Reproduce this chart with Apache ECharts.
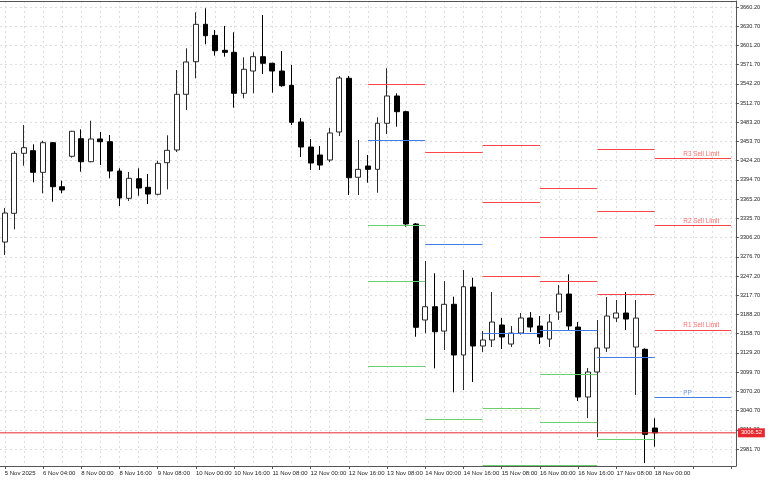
<!DOCTYPE html>
<html><head><meta charset="utf-8">
<script src="https://cdn.jsdelivr.net/npm/echarts@6/dist/echarts.min.js"></script>
<style>html,body{margin:0;padding:0;background:#fff}#c{width:768px;height:480px}</style>
</head><body><div id="c"></div>
<script>
const categories = [
 '5 Nov 12:00','5 Nov 16:00','5 Nov 20:00','6 Nov 00:00','6 Nov 04:00','6 Nov 08:00','6 Nov 12:00','6 Nov 16:00',
 '8 Nov 00:00','8 Nov 04:00','8 Nov 08:00','8 Nov 12:00','8 Nov 16:00','8 Nov 20:00',
 '9 Nov 00:00','9 Nov 04:00','9 Nov 08:00','9 Nov 12:00','9 Nov 16:00','9 Nov 20:00',
 '10 Nov 00:00','10 Nov 04:00','10 Nov 08:00','10 Nov 12:00','10 Nov 16:00','10 Nov 20:00',
 '11 Nov 00:00','11 Nov 04:00','11 Nov 08:00','11 Nov 12:00','11 Nov 16:00','11 Nov 20:00',
 '12 Nov 00:00','12 Nov 04:00','12 Nov 08:00','12 Nov 12:00','12 Nov 16:00','12 Nov 20:00',
 '13 Nov 00:00','13 Nov 04:00','13 Nov 08:00','13 Nov 12:00','13 Nov 16:00','13 Nov 20:00',
 '14 Nov 00:00','14 Nov 04:00','14 Nov 08:00','14 Nov 12:00','14 Nov 16:00','14 Nov 20:00',
 '15 Nov 00:00','15 Nov 04:00','15 Nov 08:00','15 Nov 12:00','15 Nov 16:00','15 Nov 20:00',
 '16 Nov 00:00','16 Nov 04:00','16 Nov 08:00','16 Nov 12:00','16 Nov 16:00','16 Nov 20:00',
 '17 Nov 00:00','17 Nov 04:00','17 Nov 08:00','17 Nov 12:00','17 Nov 16:00','17 Nov 20:00',
 '18 Nov 00:00','18 Nov 04:00','18 Nov 08:00','18 Nov 12:00','18 Nov 16:00','18 Nov 20:00',
 '19 Nov 00:00','19 Nov 04:00','19 Nov 08:00'
];
const firstTickLabel = '5 Nov 2025';

const opens = [3299.4,3343.5,3435.6,3439.6,3406.4,3451.9,3384.3,3431.0,3458.0,3422.7,
 3457.6,3453.4,3408.4,3366.5,3396.6,3383.4,3372.7,3421.2,3440.7,3526.2,
 3576.2,3633.6,3616.6,3593.7,3590.6,3527.7,3561.9,3583.9,3573.8,3561.9,
 3540.0,3483.7,3445.3,3433.0,3425.3,3468.3,3550.7,3398.8,3416.1,3411.0,
 3481.7,3523.6,3499.5,3327.1,3179.7,3200.1,3162.7,3203.8,3126.0,3230.3,
 3139.8,3149.0,3172.0,3142.8,3159.7,3182.8,3170.5,3150.5,3192.0,3219.6,
 3168.9,3061.5,3099.9,3136.7,3182.7,3190.4,3138.2,3134.7,3013.9];
const closes = [3343.9,3435.6,3444.2,3406.4,3451.9,3384.3,3379.3,3469.4,3422.7,3457.6,
 3453.4,3408.4,3367.0,3397.2,3382.3,3373.1,3420.2,3440.2,3526.2,3575.8,
 3633.6,3616.1,3593.1,3590.6,3527.7,3564.6,3583.9,3573.8,3561.9,3539.4,
 3483.2,3445.3,3420.7,3417.6,3466.8,3551.2,3398.1,3411.0,3411.0,3481.7,
 3523.6,3499.5,3327.1,3168.5,3200.1,3161.7,3203.8,3126.0,3230.8,3139.8,
 3149.0,3176.6,3153.6,3159.7,3182.8,3168.9,3153.6,3176.6,3219.6,3170.5,
 3061.5,3099.9,3136.7,3185.8,3190.4,3181.2,3182.7,3004.2,3006.52];
const lows = [3279.5,3318.9,3416.6,3391.1,3374.2,3361.3,3374.2,3429.0,3407.4,3421.8,
 3417.6,3397.2,3354.7,3362.4,3370.5,3357.8,3371.0,3380.3,3437.6,3502.1,
 3550.7,3602.9,3585.4,3583.9,3505.6,3520.0,3527.7,3557.3,3528.6,3537.8,
 3479.0,3429.9,3410.0,3410.0,3422.2,3462.2,3371.6,3371.6,3390.5,3375.1,
 3465.2,3476.4,3322.9,3154.0,3159.3,3105.5,3133.6,3068.7,3072.2,3084.5,
 3130.6,3138.2,3135.2,3138.2,3157.3,3161.3,3142.8,3138.2,3179.7,3162.8,
 3055.3,3029.2,3000.1,3130.6,3176.6,3164.3,3064.6,2960.1,2985.2];
const highs = [3351.6,3439.1,3479.0,3449.4,3454.9,3453.0,3393.5,3470.0,3472.4,3485.6,
 3468.3,3463.7,3412.6,3406.9,3412.6,3403.8,3424.2,3463.2,3563.5,3596.8,
 3652.1,3658.2,3624.9,3631.0,3621.4,3583.0,3590.6,3647.9,3574.5,3592.7,
 3571.2,3489.8,3457.6,3446.8,3474.4,3554.3,3554.3,3456.0,3433.0,3490.9,
 3566.1,3527.7,3501.0,3328.5,3270.3,3251.4,3239.6,3215.5,3256.4,3244.6,
 3162.8,3222.7,3182.7,3170.5,3190.4,3191.9,3185.7,3188.8,3233.4,3249.8,
 3176.6,3106.0,3179.7,3215.0,3210.4,3222.7,3210.4,3136.2,3028.8];

const currentPrice = 3006.52;

// daily pivot segments (bar index start/end)
const segStart = [38, 44, 50, 56, 62, 68];
const segEnd   = [44, 50, 56, 62, 68, 76];
const R3 = [null, null, 3448.3, 3381.9, 3442.2, 3427.6];
const R2 = [null, null, 3359.8, 3306.6, 3345.9, 3324.5];
const R1 = [3542.0, 3437.6, 3247.2, 3239.6, 3219.6, 3164.3];
const PP = [3456.0, 3296.4, 3159.7, 3164.3, 3122.9, 3061.0];
const S1 = [3324.8, 3027.2, 3044.6, 3096.8, 2997.0, null];
const S2 = [3239.6, null, 2956.3, 3023.1, null, null];
const S3 = [3109.1, null, null, 2956.3, null, null];

const tagTexts = ['R3 Sell Limit', 'R2 Sell Limit', 'R1 Sell Limit', 'PP'];
const tagValues = [3427.6, 3324.5, 3164.3, 3061.0];
const tagIndex = 71;

const yTicks = [2981.7,3011.2,3040.7,3070.2,3099.7,3129.2,3158.7,3188.2,3217.7,3247.2,3276.7,3306.2,
 3335.7,3365.2,3394.7,3424.2,3453.7,3483.2,3512.7,3542.2,3571.7,3601.2,3630.7,3660.2];

const RED = '#ff4646', BLUE = '#3f7ee8', GREEN = '#6ccf6c', PRICE = '#e8282e';
const FONT = 'Liberation Sans, Arial, sans-serif';

const candleData = opens.map((o, i) => [o, closes[i], lows[i], highs[i]]);

const levelSets = [
  {vals: R3, color: RED}, {vals: R2, color: RED}, {vals: R1, color: RED},
  {vals: PP, color: BLUE}, {vals: S1, color: GREEN}, {vals: S2, color: GREEN}, {vals: S3, color: GREEN}
];
const markLines = [];
levelSets.forEach(s => s.vals.forEach((v, j) => {
  if (v == null) return;
  markLines.push([{coord: [segStart[j], v], lineStyle: {color: s.color}}, {coord: [segEnd[j], v]}]);
}));
const tagColors = [RED, RED, RED, BLUE];

const chart = echarts.init(document.getElementById('c'));
chart.setOption({
  animation: false,
  backgroundColor: '#ffffff',
  grid: {left: -3.3, right: 32.1, top: 1, bottom: 14, containLabel: false},
  xAxis: [{
    type: 'category',
    data: categories,
    boundaryGap: true,
    axisLine: {show: true, onZero: false, lineStyle: {color: '#555', width: 1}},
    axisTick: {show: true, alignWithLabel: true, length: 3, interval: i => i % 4 === 0, lineStyle: {color: '#555'}},
    axisLabel: {
      show: true, interval: i => i % 4 === 0 && i <= 68, align: 'left', margin: 4,
      fontSize: 6, fontFamily: FONT, color: '#222',
      formatter: (v, i) => (i === 0 ? firstTickLabel : v)
    },
    splitLine: {show: true, alignWithLabel: true, interval: i => i % 2 === 0,
      lineStyle: {color: '#dcdcdc', type: [2, 3], width: 1}}
  }, {
    type: 'value', position: 'top', min: 0, max: 1,
    axisLine: {show: true, onZero: false, lineStyle: {color: '#555'}},
    axisTick: {show: false}, axisLabel: {show: false}, splitLine: {show: false}
  }],
  yAxis: {
    type: 'value', position: 'right', min: 2955.6, max: 3669.4, scale: true,
    axisLine: {show: true, onZero: false, lineStyle: {color: '#555'}},
    axisTick: {show: true, inside: false, length: 3, customValues: yTicks, lineStyle: {color: '#555'}},
    axisLabel: {show: true, customValues: yTicks, margin: 4, fontSize: 5.6, fontFamily: FONT, color: '#222',
      formatter: v => v.toFixed(2)},
    splitLine: {show: true, lineStyle: {color: '#dcdcdc', type: [2, 3], width: 1}}
  },
  series: [{
    type: 'candlestick',
    data: candleData,
    barWidth: 5.4,
    itemStyle: {color: '#ffffff', color0: '#000000', borderColor: '#2a2a2a', borderColor0: '#000000', borderWidth: 1},
    markLine: {
      silent: true, symbol: ['none', 'none'], animation: false,
      label: {show: false},
      lineStyle: {type: 'solid', width: 1},
      emphasis: {disabled: true},
      data: markLines
    }
  }, {
    type: 'scatter',
    symbolSize: 1,
    silent: true,
    z: 5,
    itemStyle: {color: 'rgba(0,0,0,0)'},
    data: tagValues.map((v, i) => ({value: [tagIndex, v], label: {color: tagColors[i]}})),
    label: {
      show: true, position: [0.5, -1], align: 'left', verticalAlign: 'bottom',
      fontSize: 6.4, fontFamily: FONT,
      formatter: p => tagTexts[p.dataIndex]
    }
  }, {
    type: 'line',
    xAxisIndex: 1,
    silent: true,
    z: 6,
    symbol: 'none',
    color: PRICE,
    lineStyle: {color: PRICE, width: 1, type: 'solid'},
    data: [[0, currentPrice], [1, currentPrice]],
    endLabel: {
      show: true, distance: 2,
      formatter: () => currentPrice.toFixed(2),
      backgroundColor: PRICE, color: '#fff', padding: [2, 3, 1, 3],
      fontSize: 5.8, fontFamily: FONT
    }
  }]
});
</script>
</body></html>
